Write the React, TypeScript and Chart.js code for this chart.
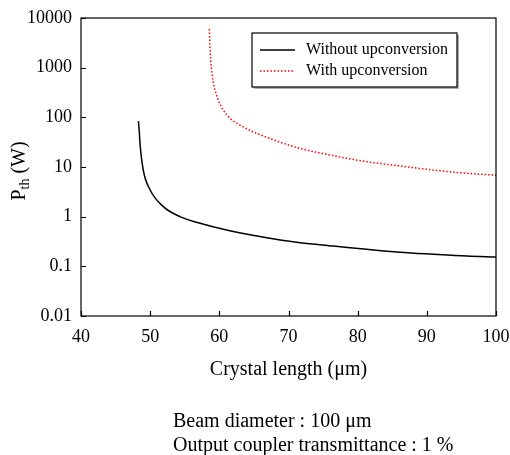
import React, { useEffect, useRef } from "react";
import { Chart, registerables } from "chart.js";

Chart.register(...registerables);

const lenWithout = [48.3, 48.43, 48.53, 49.0, 50.0, 51.9, 54.3, 56.7, 61.5, 68.8, 71.7, 76.5, 81.3, 86.1, 90.9, 95.8, 100];
const pthWithout = [84, 51, 30, 8.7, 3.44, 1.59, 1.0, 0.77, 0.52, 0.34, 0.3, 0.257, 0.22, 0.192, 0.175, 0.161, 0.154];

const lenWith = [58.55, 58.65, 58.75, 58.9, 58.98, 59.23, 59.37, 59.85, 60.57, 61.54, 63.0, 64.9, 66.85, 69.25, 71.6, 76.5, 81.3, 86.1, 90.9, 95.8, 100];
const pthWith = [6000, 2640, 1426, 900, 711, 430, 355, 223, 141, 96, 70, 51, 39.6, 30, 23.8, 16.9, 12.8, 10.5, 8.7, 7.47, 6.85];

const xTicks = [40, 50, 60, 70, 80, 90, 100];
const yTicks = [0.01, 0.1, 1, 10, 100, 1000, 10000];

const seriesLabels = ["Without upconversion", "With upconversion"];
const captionLines = ["Beam diameter : 100 \u03bcm", "Output coupler transmittance : 1 %"];

const SERIF = "'Liberation Serif', 'DejaVu Serif', serif";

const framePlugin = {
  id: "frameTicks",
  afterDraw(chart: any) {
    const { ctx, chartArea: a } = chart;
    const xs = chart.scales.x;
    const ys = chart.scales.y;
    ctx.save();
    ctx.strokeStyle = "#000";
    ctx.lineWidth = 1.2;
    ctx.strokeRect(a.left, a.top, a.right - a.left, a.bottom - a.top);
    ctx.beginPath();
    for (const t of xs.ticks) {
      const px = Math.round(xs.getPixelForValue(t.value)) + 0.5;
      ctx.moveTo(px, a.bottom);
      ctx.lineTo(px, a.bottom - 5);
    }
    for (const t of ys.ticks) {
      const py = Math.round(ys.getPixelForValue(t.value)) + 0.5;
      ctx.moveTo(a.left, py);
      ctx.lineTo(a.left + 5, py);
    }
    ctx.stroke();

    // legend
    const lx = 252, ly = 33, lw = 205, lh = 54;
    ctx.fillStyle = "#b0b0b0";
    ctx.fillRect(lx + 2, ly + 2, lw, lh);
    ctx.fillStyle = "#fff";
    ctx.fillRect(lx, ly, lw, lh);
    ctx.lineWidth = 1.2;
    ctx.strokeStyle = "#000";
    ctx.strokeRect(lx, ly, lw, lh);
    ctx.font = `16px ${SERIF}`;
    ctx.textBaseline = "middle";
    ctx.textAlign = "left";
    chart.data.datasets.forEach((ds: any, i: number) => {
      const yy = ly + 17 + i * 21;
      ctx.beginPath();
      ctx.strokeStyle = ds.borderColor;
      ctx.lineWidth = ds.borderWidth;
      ctx.setLineDash(ds.borderDash || []);
      ctx.moveTo(lx + 8, yy);
      ctx.lineTo(lx + 43, yy);
      ctx.stroke();
      ctx.setLineDash([]);
      ctx.fillStyle = "#000";
      ctx.fillText(ds.label, lx + 54, yy);
    });

    // y title with subscript
    ctx.save();
    ctx.translate(18, (a.top + a.bottom) / 2 + 4);
    ctx.rotate(-Math.PI / 2);
    ctx.fillStyle = "#000";
    ctx.textBaseline = "alphabetic";
    const f1 = `20px ${SERIF}`;
    const f2 = `14px ${SERIF}`;
    ctx.font = f1;
    const wP = ctx.measureText("P").width;
    const wW = ctx.measureText(" (W)").width;
    ctx.font = f2;
    const wth = ctx.measureText("th").width;
    const total = wP + wth + wW;
    let cx = -total / 2;
    ctx.font = f1;
    ctx.fillText("P", cx, 7);
    cx += wP;
    ctx.font = f2;
    ctx.fillText("th", cx, 11);
    cx += wth;
    ctx.font = f1;
    ctx.fillText(" (W)", cx, 7);
    ctx.restore();

    // caption
    ctx.font = `20px ${SERIF}`;
    ctx.fillStyle = "#000";
    ctx.textBaseline = "alphabetic";
    ctx.textAlign = "left";
    captionLines.forEach((s, i) => ctx.fillText(s, 173, 427 + i * 24));
    ctx.restore();
  },
};

export default function App() {
  const ref = useRef<HTMLCanvasElement>(null);
  useEffect(() => {
    const chart = new Chart(ref.current as HTMLCanvasElement, {
      type: "line",
      data: {
        datasets: [
          {
            label: seriesLabels[0],
            data: lenWithout.map((x, i) => ({ x, y: pthWithout[i] })),
            borderColor: "#000000",
            borderWidth: 1.5,
            pointRadius: 0,
            cubicInterpolationMode: "monotone",
            fill: false,
          },
          {
            label: seriesLabels[1],
            data: lenWith.map((x, i) => ({ x, y: pthWith[i] })),
            borderColor: "#ff0000",
            borderWidth: 1.5,
            borderDash: [1.5, 2],
            pointRadius: 0,
            cubicInterpolationMode: "monotone",
            fill: false,
          },
        ],
      },
      options: {
        animation: false,
        responsive: false,
        maintainAspectRatio: false,
        layout: { padding: { left: 0, top: 18, right: 14, bottom: 73 } },
        plugins: { legend: { display: false }, tooltip: { enabled: false } },
        scales: {
          x: {
            type: "linear",
            min: 40,
            max: 100,
            afterFit: (s: any) => {
              s.height = 66;
              s.paddingLeft = 0;
              s.paddingRight = 0;
            },
            afterBuildTicks: (s: any) => {
              s.ticks = xTicks.map((v) => ({ value: v }));
            },
            grid: { display: false, drawTicks: false },
            border: { display: false },
            ticks: {
              color: "#000",
              font: { family: SERIF, size: 18 },
              padding: 10,
              maxRotation: 0,
              autoSkip: false,
            },
            title: {
              display: true,
              text: "Crystal length (\u03bcm)",
              color: "#000",
              font: { family: SERIF, size: 20 },
              padding: 0,
            },
          },
          y: {
            type: "logarithmic",
            min: 0.01,
            max: 10000,
            afterFit: (s: any) => {
              s.width = 81;
              s.paddingTop = 0;
              s.paddingBottom = 0;
            },
            afterBuildTicks: (s: any) => {
              s.ticks = yTicks.map((v) => ({ value: v }));
            },
            grid: { display: false, drawTicks: false },
            border: { display: false },
            ticks: {
              color: "#000",
              font: { family: SERIF, size: 18 },
              padding: 9,
              autoSkip: false,
              callback: (v: any) => String(v),
            },
          },
        },
      },
      plugins: [framePlugin],
    } as any);
    return () => chart.destroy();
  }, []);
  return (
    <div style={{ position: "fixed", left: 0, top: 0, width: 510, height: 455, background: "#fff" }}>
      <canvas ref={ref} width={510} height={455} style={{ width: 510, height: 455 }} />
    </div>
  );
}
